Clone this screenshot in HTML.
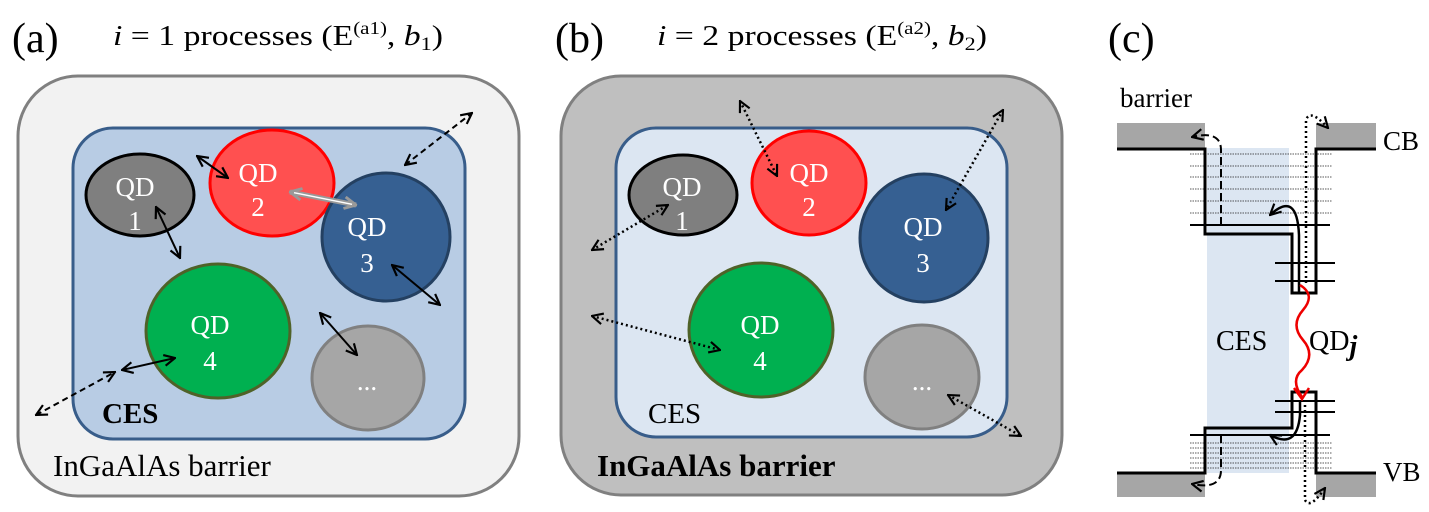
<!DOCTYPE html>
<html><head><meta charset="utf-8"><style>
html,body{margin:0;padding:0;background:#fff;}
svg{display:block;font-family:"Liberation Serif",serif;}
</style></head><body>
<svg width="1429" height="512" viewBox="0 0 1429 512" xmlns="http://www.w3.org/2000/svg">
<defs>
<marker id="ah" viewBox="0 0 12 12" refX="11" refY="6" markerWidth="13" markerHeight="13" markerUnits="userSpaceOnUse" orient="auto-start-reverse">
<path d="M1,1 L11,6 L1,11" fill="none" stroke="#000" stroke-width="2"/></marker>
<marker id="ahg" viewBox="0 0 12 12" refX="11" refY="6" markerWidth="14" markerHeight="14" markerUnits="userSpaceOnUse" orient="auto-start-reverse">
<path d="M1,1 L11,6 L1,11" fill="none" stroke="#999" stroke-width="2.5"/></marker>
</defs>
<!-- titles -->
<text x="12" y="52" font-size="42">(a)</text>
<text x="113" y="45" font-size="29" textLength="330" lengthAdjust="spacingAndGlyphs"><tspan font-style="italic">i</tspan> = 1 processes (E<tspan font-size="18" dy="-11">(a1)</tspan><tspan dy="11">, </tspan><tspan font-style="italic">b</tspan><tspan font-size="19" dy="5">1</tspan><tspan dy="-5">)</tspan></text>
<text x="555" y="52" font-size="42">(b)</text>
<text x="657" y="45" font-size="29" textLength="330" lengthAdjust="spacingAndGlyphs"><tspan font-style="italic">i</tspan> = 2 processes (E<tspan font-size="18" dy="-11">(a2)</tspan><tspan dy="11">, </tspan><tspan font-style="italic">b</tspan><tspan font-size="19" dy="5">2</tspan><tspan dy="-5">)</tspan></text>
<text x="1108" y="52" font-size="42">(c)</text>

<!-- panel a -->
<rect x="18" y="76" width="501" height="420" rx="60" fill="#f2f2f2" stroke="#808080" stroke-width="3"/>
<rect x="73" y="128" width="392" height="311" rx="40" fill="#b8cce4" stroke="#385d8a" stroke-width="3"/>
<ellipse cx="140" cy="195" rx="54" ry="41" fill="#7f7f7f" stroke="#000" stroke-width="3"/>
<ellipse cx="272" cy="183" rx="62" ry="53" fill="#ff5050" stroke="#ff0000" stroke-width="3"/>
<ellipse cx="386" cy="237" rx="64" ry="64" fill="#366092" stroke="#244061" stroke-width="3"/>
<ellipse cx="218" cy="331" rx="72" ry="67" fill="#00b050" stroke="#4f6228" stroke-width="3"/>
<ellipse cx="368" cy="378" rx="56" ry="52" fill="#a6a6a6" stroke="#808080" stroke-width="3"/>
<g fill="#fff" font-size="27" text-anchor="middle">
<text x="135" y="196">QD</text><text x="135" y="230">1</text>
<text x="258" y="182">QD</text><text x="258" y="216">2</text>
<text x="367" y="236">QD</text><text x="367" y="272">3</text>
<text x="210" y="334">QD</text><text x="210" y="370">4</text>
<text x="367" y="390">...</text>
</g>
<text x="102" y="423" font-size="29" font-weight="bold">CES</text>
<text x="53" y="476" font-size="31">InGaAlAs barrier</text>
<g stroke="#000" stroke-width="2" fill="none">
<line x1="197" y1="156" x2="228" y2="178" marker-start="url(#ah)" marker-end="url(#ah)"/>
<line x1="156" y1="207" x2="180" y2="258" marker-start="url(#ah)" marker-end="url(#ah)"/>
<line x1="392" y1="265" x2="440" y2="305" marker-start="url(#ah)" marker-end="url(#ah)"/>
<line x1="320" y1="313" x2="357" y2="355" marker-start="url(#ah)" marker-end="url(#ah)"/>
<line x1="122" y1="370" x2="175" y2="358" marker-start="url(#ah)" marker-end="url(#ah)"/>
<line x1="36" y1="415" x2="115" y2="372" stroke-dasharray="6,4" marker-start="url(#ah)" marker-end="url(#ah)"/>
<line x1="405" y1="165" x2="472" y2="113" stroke-dasharray="6,4" marker-start="url(#ah)" marker-end="url(#ah)"/>
</g>
<line x1="290" y1="192" x2="356" y2="205" stroke="#999" stroke-width="5" marker-start="url(#ahg)" marker-end="url(#ahg)"/>
<line x1="294" y1="192.7" x2="352" y2="204.3" stroke="#fff" stroke-width="1.5"/>

<!-- panel b -->
<rect x="561" y="76" width="501" height="419" rx="60" fill="#bfbfbf" stroke="#808080" stroke-width="3"/>
<rect x="616" y="128" width="391" height="309" rx="40" fill="#dce6f2" stroke="#385d8a" stroke-width="3"/>
<ellipse cx="683" cy="195" rx="54" ry="40" fill="#7f7f7f" stroke="#000" stroke-width="3"/>
<ellipse cx="809" cy="183" rx="57" ry="52" fill="#ff5050" stroke="#ff0000" stroke-width="3"/>
<ellipse cx="924" cy="238" rx="64" ry="64" fill="#366092" stroke="#244061" stroke-width="3"/>
<ellipse cx="761" cy="330" rx="72" ry="67" fill="#00b050" stroke="#4f6228" stroke-width="3"/>
<ellipse cx="922" cy="377" rx="57" ry="52" fill="#a6a6a6" stroke="#808080" stroke-width="3"/>
<g fill="#fff" font-size="27" text-anchor="middle">
<text x="682" y="196">QD</text><text x="682" y="230">1</text>
<text x="809" y="182">QD</text><text x="809" y="216">2</text>
<text x="923" y="236">QD</text><text x="923" y="272">3</text>
<text x="760" y="334">QD</text><text x="760" y="370">4</text>
<text x="922" y="390">...</text>
</g>
<text x="648" y="423" font-size="29">CES</text>
<text x="597" y="476" font-size="31" font-weight="bold">InGaAlAs barrier</text>
<g stroke="#000" stroke-width="2.5" fill="none" stroke-dasharray="2,3">
<line x1="740" y1="101" x2="777" y2="176" marker-start="url(#ah)" marker-end="url(#ah)"/>
<line x1="1003" y1="110" x2="946" y2="210" marker-start="url(#ah)" marker-end="url(#ah)"/>
<line x1="592" y1="250" x2="668" y2="205" marker-start="url(#ah)" marker-end="url(#ah)"/>
<line x1="592" y1="316" x2="720" y2="350" marker-start="url(#ah)" marker-end="url(#ah)"/>
<line x1="948" y1="395" x2="1021" y2="436" marker-start="url(#ah)" marker-end="url(#ah)"/>
</g>

<!-- panel c -->
<rect x="1207" y="148" width="82" height="325" fill="#dce6f2"/>
<rect x="1117" y="123" width="88" height="26" fill="#a6a6a6"/>
<rect x="1316" y="123" width="60" height="26" fill="#a6a6a6"/>
<rect x="1117" y="473" width="88" height="24" fill="#a6a6a6"/>
<rect x="1316" y="473" width="60" height="24" fill="#a6a6a6"/>
<g stroke="#222" stroke-width="0.7" stroke-dasharray="1.5,1">
<line x1="1190" y1="154" x2="1332" y2="154"/><line x1="1190" y1="166" x2="1332" y2="166"/>
<line x1="1190" y1="177" x2="1332" y2="177"/><line x1="1190" y1="189" x2="1332" y2="189"/>
<line x1="1190" y1="201" x2="1332" y2="201"/><line x1="1190" y1="213" x2="1332" y2="213"/>
<line x1="1190" y1="443" x2="1332" y2="443"/><line x1="1190" y1="448" x2="1332" y2="448"/>
<line x1="1190" y1="453" x2="1332" y2="453"/><line x1="1190" y1="458" x2="1332" y2="458"/>
<line x1="1190" y1="463" x2="1332" y2="463"/><line x1="1190" y1="468" x2="1332" y2="468"/>
</g>
<g stroke="#000" stroke-width="2" fill="none">
<line x1="1190" y1="225" x2="1330" y2="225"/>
<line x1="1275" y1="263" x2="1335" y2="263"/><line x1="1275" y1="281" x2="1335" y2="281"/>
<line x1="1275" y1="401" x2="1335" y2="401"/><line x1="1275" y1="412" x2="1335" y2="412"/>
<line x1="1190" y1="435" x2="1330" y2="435"/>
</g>
<g stroke="#000" stroke-width="3" fill="none">
<path d="M1117,149 H1205 V234 H1292 V293 H1316 V149 H1376"/>
<path d="M1117,473 H1205 V428 H1292 V392 H1316 V473 H1376"/>
</g>
<g stroke="#000" stroke-width="2" fill="none">
<path d="M1221,225 V150 Q1221,130 1192,137" stroke-dasharray="8,4" marker-end="url(#ah)"/>
<path d="M1221,435 V470 Q1221,490 1192,484" stroke-dasharray="8,4" marker-end="url(#ah)"/>
<path d="M1299,293 V235 Q1297,190 1270,215" stroke-width="2.5" marker-end="url(#ah)"/>
<path d="M1300,402 V415 Q1297,450 1270,435" stroke-width="2.5" marker-end="url(#ah)"/>
<path d="M1306,283 V120 Q1310,108 1328,128" stroke-dasharray="2,3" stroke-width="2.5" marker-end="url(#ah)"/>
<path d="M1305,400 V500 Q1310,510 1325,488" stroke-dasharray="2,3" stroke-width="2.5" marker-end="url(#ah)"/>
</g>
<path d="M1300,285 Q1316,295 1303,310 Q1290,325 1303,340 Q1316,355 1302,370 Q1290,380 1302,397" stroke="#e00" stroke-width="2.5" fill="none"/>
<path d="M1294,388 L1302,399 L1309,388" stroke="#e00" stroke-width="2.5" fill="none"/>
<text x="1120" y="107" font-size="27">barrier</text>
<text x="1383" y="150" font-size="27">CB</text>
<text x="1383" y="481" font-size="27">VB</text>
<text x="1216" y="350" font-size="28">CES</text>
<text x="1309" y="350" font-size="28">QD<tspan font-style="italic" font-weight="bold" dy="5">j</tspan></text>
</svg>
</body></html>
